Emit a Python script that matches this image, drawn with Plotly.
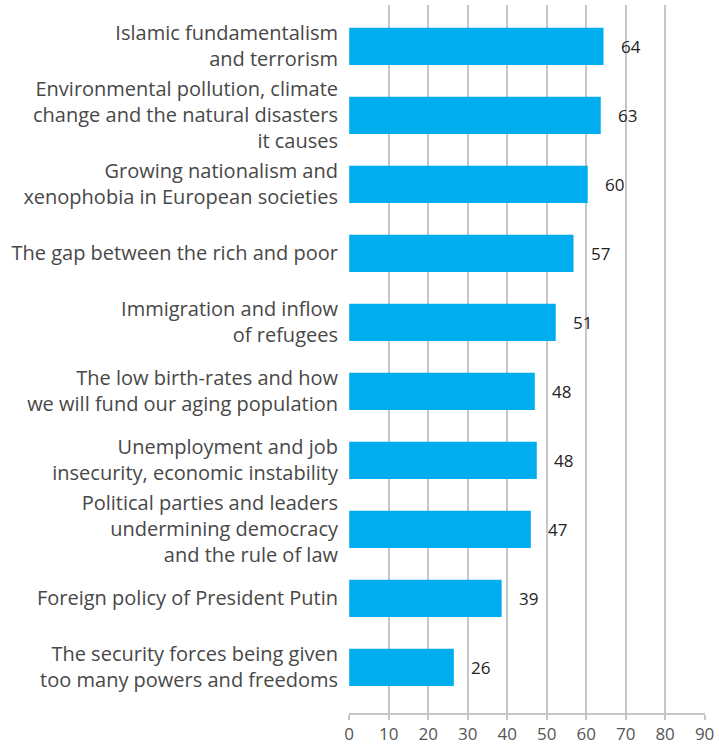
import plotly.graph_objects as go

# categories, top to bottom
categories = [
    "Islamic fundamentalism<br>and terrorism",
    "Environmental pollution, climate<br>change and the natural disasters<br>it causes",
    "Growing nationalism and<br>xenophobia in European societies",
    "The gap between the rich and poor",
    "Immigration and inflow<br>of refugees",
    "The low birth-rates and how<br>we will fund our aging population",
    "Unemployment and job<br>insecurity, economic instability",
    "Political parties and leaders<br>undermining democracy<br>and the rule of law",
    "Foreign policy of President Putin",
    "The security forces being given<br>too many powers and freedoms",
]
# bar lengths as drawn, and the numbers printed next to them
bar_values = [64.4, 63.7, 60.4, 56.8, 52.3, 47.0, 47.5, 46.0, 38.6, 26.5]
value_labels = ["64", "63", "60", "57", "51", "48", "48", "47", "39", "26"]
x_ticks = [0, 10, 20, 30, 40, 50, 60, 70, 80, 90]

grid_col = "#c6c6ca"

fig = go.Figure()
fig.add_trace(go.Bar(
    x=bar_values, y=categories, orientation="h",
    marker=dict(color="#00aeef", line=dict(width=0)),
    width=0.54, showlegend=False, hoverinfo="skip",
))

for v, lab, cat in zip(bar_values, value_labels, categories):
    fig.add_annotation(x=v, y=cat, text=lab, showarrow=False,
                       xanchor="center", xshift=27,
                       font=dict(family="Open Sans", size=17, color="#222222"))

fig.update_xaxes(range=[-0.05, 90.1], tickvals=x_ticks,
                 showgrid=True, gridcolor=grid_col, gridwidth=2,
                 showline=True, linecolor=grid_col, linewidth=2,
                 ticks="outside", ticklen=5, tickcolor=grid_col, tickwidth=2,
                 zeroline=False,
                 tickfont=dict(family="Open Sans", size=17, color="#555555"))
fig.update_yaxes(range=[9.66, -0.6], showgrid=False, zeroline=False,
                 showline=False, ticks="", ticklabelstandoff=10,
                 tickfont=dict(family="Open Sans", size=20, color="#484848"))

fig.update_layout(width=719, height=748,
                  margin=dict(l=349, r=14, t=5, b=35, autoexpand=False),
                  plot_bgcolor="white", paper_bgcolor="white",
                  bargap=0.46)

fig.write_html("out.html", config={"displayModeBar": False},
               post_script="document.body.style.margin='0';")
